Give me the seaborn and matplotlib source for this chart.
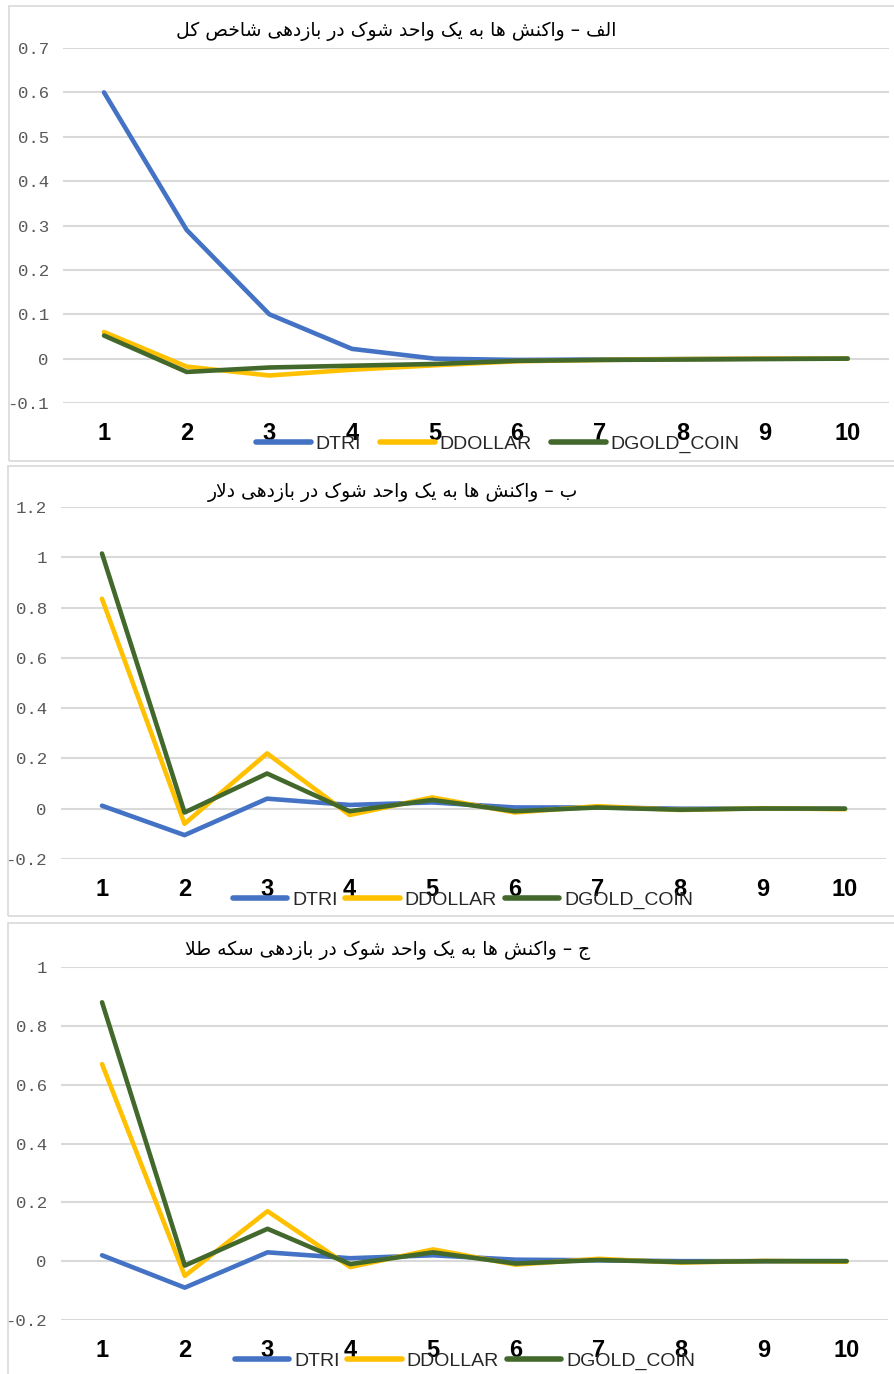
import pandas as pd
import matplotlib
matplotlib.use('Agg')
import matplotlib.pyplot as plt
import seaborn as sns
from matplotlib.patches import Rectangle

# periods and series
periods = list(range(1, 11))
series_names = ['DTRI', 'DDOLLAR', 'DGOLD_COIN']

# panel a: shock in total index return
a_dtri = [0.600, 0.290, 0.100, 0.022, 0.000, -0.003, -0.002, -0.001, 0.000, 0.000]
a_dollar = [0.060, -0.018, -0.038, -0.025, -0.015, -0.006, -0.003, -0.001, 0.000, 0.000]
a_gold = [0.052, -0.030, -0.020, -0.016, -0.012, -0.005, -0.003, -0.002, -0.001, 0.000]

# panel b: shock in dollar return
b_dtri = [0.012, -0.105, 0.040, 0.015, 0.025, 0.005, 0.005, 0.000, 0.000, 0.000]
b_dollar = [0.835, -0.060, 0.220, -0.025, 0.045, -0.015, 0.010, -0.005, 0.002, -0.002]
b_gold = [1.015, -0.015, 0.140, -0.010, 0.035, -0.010, 0.005, -0.004, 0.001, 0.000]

# panel c: shock in gold coin return
c_dtri = [0.020, -0.090, 0.030, 0.010, 0.020, 0.005, 0.003, 0.000, 0.000, 0.000]
c_dollar = [0.670, -0.050, 0.170, -0.020, 0.040, -0.012, 0.008, -0.005, 0.001, -0.002]
c_gold = [0.880, -0.015, 0.110, -0.010, 0.030, -0.008, 0.004, -0.003, 0.000, 0.000]

titles = [
    'الف – واکنش ها به یک واحد شوک در بازدهی شاخص کل',
    'ب – واکنش ها به یک واحد شوک در بازدهی دلار',
    'ج – واکنش ها به یک واحد شوک در بازدهی سکه طلا',
]
y_ticks = [
    [-0.1, 0, 0.1, 0.2, 0.3, 0.4, 0.5, 0.6, 0.7],
    [-0.2, 0, 0.2, 0.4, 0.6, 0.8, 1, 1.2],
    [-0.2, 0, 0.2, 0.4, 0.6, 0.8, 1],
]
y_tick_labels = [
    ['-0.1', '0', '0.1', '0.2', '0.3', '0.4', '0.5', '0.6', '0.7'],
    ['-0.2', '0', '0.2', '0.4', '0.6', '0.8', '1', '1.2'],
    ['-0.2', '0', '0.2', '0.4', '0.6', '0.8', '1'],
]
panels = [
    (a_dtri, a_dollar, a_gold),
    (b_dtri, b_dollar, b_gold),
    (c_dtri, c_dollar, c_gold),
]
colors = {'DTRI': '#4472C4', 'DDOLLAR': '#FFC000', 'DGOLD_COIN': '#43682B'}

# simple Arabic/Persian shaping (matplotlib has no text shaping / bidi)
FORMS = {
    'ا': ('\uFE8D', '\uFE8E', None, None),
    'ب': ('\uFE8F', '\uFE90', '\uFE91', '\uFE92'),
    'ج': ('\uFE9D', '\uFE9E', '\uFE9F', '\uFEA0'),
    'ح': ('\uFEA1', '\uFEA2', '\uFEA3', '\uFEA4'),
    'خ': ('\uFEA5', '\uFEA6', '\uFEA7', '\uFEA8'),
    'د': ('\uFEA9', '\uFEAA', None, None),
    'ر': ('\uFEAD', '\uFEAE', None, None),
    'ز': ('\uFEAF', '\uFEB0', None, None),
    'س': ('\uFEB1', '\uFEB2', '\uFEB3', '\uFEB4'),
    'ش': ('\uFEB5', '\uFEB6', '\uFEB7', '\uFEB8'),
    'ص': ('\uFEB9', '\uFEBA', '\uFEBB', '\uFEBC'),
    'ط': ('\uFEC1', '\uFEC2', '\uFEC3', '\uFEC4'),
    'ف': ('\uFED1', '\uFED2', '\uFED3', '\uFED4'),
    'ل': ('\uFEDD', '\uFEDE', '\uFEDF', '\uFEE0'),
    'ن': ('\uFEE5', '\uFEE6', '\uFEE7', '\uFEE8'),
    'ه': ('\uFEE9', '\uFEEA', '\uFEEB', '\uFEEC'),
    'و': ('\uFEED', '\uFEEE', None, None),
    'ک': ('\uFB8E', '\uFB8F', '\uFB90', '\uFB91'),
    'ی': ('\uFBFC', '\uFBFD', '\uFBFE', '\uFBFF'),
}


def shape(text):
    out = []
    i = 0
    n = len(text)
    while i < n:
        c = text[i]
        if c not in FORMS:
            out.append(c)
            i += 1
            continue
        prev = text[i - 1] if i > 0 else ''
        joins_prev = prev in FORMS and FORMS[prev][2] is not None
        if c == 'ل' and i + 1 < n and text[i + 1] == 'ا':
            out.append('\uFEFC' if joins_prev else '\uFEFB')
            i += 2
            continue
        nxt = text[i + 1] if i + 1 < n else ''
        joins_next = FORMS[c][2] is not None and nxt in FORMS
        if joins_prev and joins_next:
            out.append(FORMS[c][3])
        elif joins_prev:
            out.append(FORMS[c][1])
        elif joins_next:
            out.append(FORMS[c][2])
        else:
            out.append(FORMS[c][0])
        i += 1
    return ''.join(out[::-1])


sns.set_style('white')
plt.rcParams['font.family'] = ['DejaVu Sans']

W, H = 895, 1374
fig = plt.figure(figsize=(W / 100, H / 100), dpi=100)

# layout in pixels: (axes left, axes right, axes top, axes bottom), panel box, title/legend centres
axes_px = [(62.7, 889.0, 48, 403), (60.7, 886.3, 507, 859), (60.7, 888.0, 967, 1320)]
box_px = [(9, 6, 920, 461), (8, 466, 920, 916), (8, 923, 920, 1390)]
title_px = [(396, 31), (393, 492), (388, 950)]
legend_px = [(498, 444), (463, 900), (465, 1361)]

for k in range(3):
    x0, y0, x1, y1 = box_px[k]
    fig.patches.append(Rectangle((x0 / W, 1 - y1 / H), (x1 - x0) / W, (y1 - y0) / H,
                                 transform=fig.transFigure, fill=False,
                                 edgecolor='#D9D9D9', linewidth=1.2))

    l, r, t, b = axes_px[k]
    ax = fig.add_axes([l / W, 1 - b / H, (r - l) / W, (b - t) / H])

    dtri, dollar, gold = panels[k]
    df = pd.DataFrame({
        'period': periods * 3,
        'value': dtri + dollar + gold,
        'series': [s for s in series_names for _ in periods],
    })
    sns.lineplot(data=df, x='period', y='value', hue='series', palette=colors,
                 linewidth=3.3, ax=ax, legend=False, zorder=3)

    ax.set_xlim(0.5, 10.5)
    ax.set_ylim(y_ticks[k][0], y_ticks[k][-1])
    ax.set_yticks(y_ticks[k])
    ax.set_yticklabels(y_tick_labels[k], family='Liberation Mono', fontsize=12.5, color='#595959')
    ax.set_xticks(periods)
    ax.set_xticklabels([str(p) for p in periods], family='Liberation Sans',
                       fontsize=17, fontweight='bold', color='black')
    ax.tick_params(axis='x', length=0, pad=14)
    ax.tick_params(axis='y', length=0, pad=10)
    ax.set_xlabel('')
    ax.set_ylabel('')
    ax.grid(axis='y', color='#D9D9D9', linewidth=1.5)
    ax.grid(axis='x', visible=False)
    for sp in ax.spines.values():
        sp.set_visible(False)
    ax.set_facecolor('none')

    tx, ty = title_px[k]
    fig.text(tx / W, 1 - ty / H, shape(titles[k]), ha='center', va='center',
             fontsize=13.5, color='black', family=['DejaVu Sans'])

    handles = [plt.Line2D([], [], color=colors[s], linewidth=4, solid_capstyle='round')
               for s in series_names]
    lx, ly = legend_px[k]
    fig.legend(handles, series_names, loc='center', bbox_to_anchor=(lx / W, 1 - ly / H),
               ncol=3, frameon=False, handlelength=2.8, handletextpad=0.25,
               columnspacing=1.0 if k == 0 else 0.4,
               prop={'family': 'Liberation Sans', 'size': 14})

fig.savefig('out.png', dpi=100, facecolor='white')
